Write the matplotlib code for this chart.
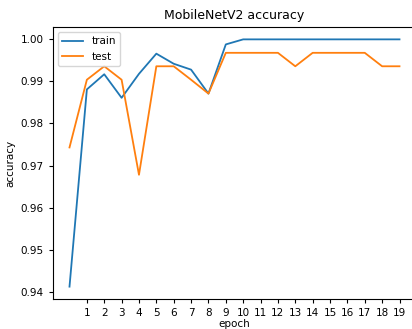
import matplotlib
matplotlib.use("Agg")
import matplotlib.pyplot as plt

epochs = list(range(20))
train_acc = [0.9412, 0.9881, 0.9917, 0.9861, 0.9918, 0.9966, 0.9942, 0.9928, 0.9871, 0.9988,
             1.0, 1.0, 1.0, 1.0, 1.0, 1.0, 1.0, 1.0, 1.0, 1.0]
test_acc = [0.9743, 0.9904, 0.9936, 0.9904, 0.9678, 0.9936, 0.9936, 0.9904, 0.9871, 0.9968,
            0.9968, 0.9968, 0.9968, 0.9936, 0.9968, 0.9968, 0.9968, 0.9968, 0.9936, 0.9936]
xticks = list(range(1, 20))

W, H = 412, 329
fig = plt.figure(figsize=(W / 100, H / 100), dpi=100)
ax = fig.add_axes([53 / W, 30 / H, (416 - 53) / W, (299 - 27) / H])

ax.plot(epochs, train_acc, label="train", linewidth=1.3)
ax.plot(epochs, test_acc, label="test", linewidth=1.3)
ax.set_xticks(xticks)
ax.tick_params(labelsize=7.5, length=3)
ax.set_title("MobileNetV2 accuracy", fontsize=9)
ax.set_xlabel("epoch", fontsize=7.5, labelpad=1)
ax.set_ylabel("accuracy", fontsize=7.5)
ax.legend(loc="upper left", fontsize=7.5)

fig.savefig("out.png", dpi=100)
